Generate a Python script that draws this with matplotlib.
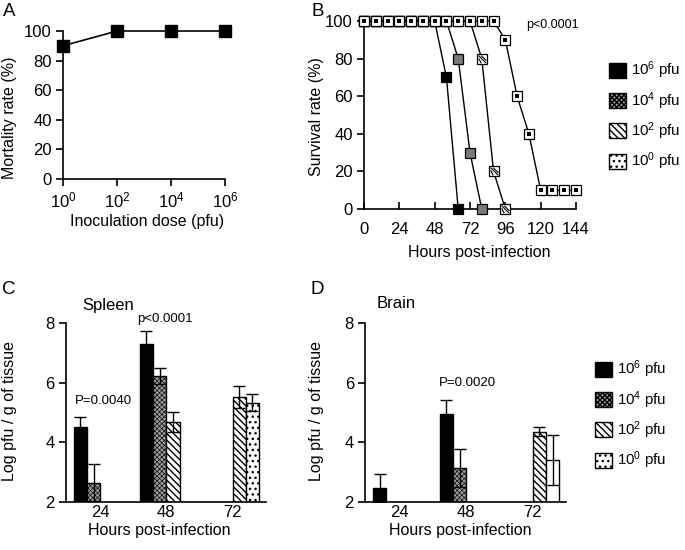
import numpy as np
import matplotlib
matplotlib.use("Agg")
import matplotlib.pyplot as plt
from matplotlib.patches import Patch
from matplotlib.path import Path

plt.rcParams["font.family"] = ["Liberation Sans", "DejaVu Sans"]
plt.rcParams["mathtext.fontset"] = "custom"
plt.rcParams["mathtext.rm"] = "Liberation Sans"
plt.rcParams["hatch.linewidth"] = 1.0

# Panel A data
doses = [1, 1e2, 1e4, 1e6]
dose_labels = [r"$\mathregular{10^0}$", r"$\mathregular{10^2}$",
               r"$\mathregular{10^4}$", r"$\mathregular{10^6}$"]
mortality = [90, 100, 100, 100]

# Panel B data (hours, survival %)
surv_hours = {
    "1e6": [0, 8, 16, 24, 32, 40, 48, 56, 64],
    "1e4": [0, 8, 16, 24, 32, 40, 48, 56, 64, 72, 80],
    "1e2": [0, 8, 16, 24, 32, 40, 48, 56, 64, 72, 80, 88, 96],
    "1e0": [0, 8, 16, 24, 32, 40, 48, 56, 64, 72, 80, 88, 96, 104, 112, 120, 128, 136, 144],
}
surv_rate = {
    "1e6": [100, 100, 100, 100, 100, 100, 100, 70, 0],
    "1e4": [100, 100, 100, 100, 100, 100, 100, 100, 80, 30, 0],
    "1e2": [100, 100, 100, 100, 100, 100, 100, 100, 100, 100, 80, 20, 0],
    "1e0": [100, 100, 100, 100, 100, 100, 100, 100, 100, 100, 100, 100, 90, 60, 40, 10, 10, 10, 10],
}

# Panels C and D data (log pfu / g), NaN = no bar
hours_labels = ["24", "48", "72"]
spleen_mean = {
    "1e6": [4.5, 7.3, np.nan],
    "1e4": [2.65, 6.22, np.nan],
    "1e2": [np.nan, 4.68, 5.52],
    "1e0": [np.nan, np.nan, 5.33],
}
spleen_err = {
    "1e6": [0.35, 0.41, 0],
    "1e4": [0.62, 0.28, 0],
    "1e2": [0, 0.33, 0.37],
    "1e0": [0, 0, 0.29],
}
brain_mean = {
    "1e6": [2.48, 4.96, np.nan],
    "1e4": [np.nan, 3.15, np.nan],
    "1e2": [np.nan, np.nan, 4.35],
    "1e0": [np.nan, np.nan, 3.41],
}
brain_err = {
    "1e6": [0.47, 0.45, 0],
    "1e4": [0, 0.63, 0],
    "1e2": [0, 0, 0.15],
    "1e0": [0, 0, 0.83],
}

series = ["1e6", "1e4", "1e2", "1e0"]
labels = [r"$\mathregular{10^6}$ pfu", r"$\mathregular{10^4}$ pfu",
          r"$\mathregular{10^2}$ pfu", r"$\mathregular{10^0}$ pfu"]
faces = {"1e6": "black", "1e4": "#9c9c9c", "1e2": "white", "1e0": "white"}
hatches = {"1e6": None, "1e4": "xxxxxxx", "1e2": "\\\\\\\\\\", "1e0": "..."}

TICK = 12
LAB = 11.5

fig = plt.figure(figsize=(6.85, 5.5), dpi=100)
W, H = 685.0, 550.0


def add_ax(x0, x1, ytop, ybot):
    return fig.add_axes([x0 / W, 1 - ybot / H, (x1 - x0) / W, (ybot - ytop) / H])


def style(ax):
    for s in ["top", "right"]:
        ax.spines[s].set_visible(False)
    for s in ["left", "bottom"]:
        ax.spines[s].set_linewidth(1.2)
    ax.tick_params(labelsize=TICK, width=1.2, length=5, pad=3)


def thin_hatch(p, key):
    if key == "1e4" and hasattr(p, "set_hatch_linewidth"):
        p.set_hatch_linewidth(0.45)


# ---- A ----
axA = add_ax(63, 225, 31, 179)
style(axA)
axA.plot(doses, mortality, color="black", lw=1.2, marker="s", ms=8,
         mfc="black", mec="black", clip_on=False, zorder=3)
axA.set_xscale("log")
axA.set_xlim(1, 1e6)
axA.set_ylim(0, 100)
axA.set_xticks(doses)
axA.set_xticklabels(dose_labels)
axA.minorticks_off()
axA.set_yticks(range(0, 101, 20))

# ---- B ----
axB = add_ax(364, 576, 21, 209)
style(axB)
axB.tick_params(axis="x", direction="in", pad=9)
hatch_marker = Path([(-1, 0.33), (-0.33, -1), (-1, 1), (1, -1), (-0.33, 1), (1, -0.33)],
                    [Path.MOVETO, Path.LINETO, Path.MOVETO, Path.LINETO, Path.MOVETO, Path.LINETO])
for key in ["1e6", "1e4", "1e2", "1e0"]:
    axB.plot(surv_hours[key], surv_rate[key], color="black", lw=1.0, marker="s",
             ms=7.5, mfc=faces[key] if key != "1e4" else "#7a7a7a", mec="black",
             mew=0.9, clip_on=False, zorder=3)
    if key == "1e0":
        axB.plot(surv_hours[key], surv_rate[key], ls="none", marker="s", ms=2.2,
                 mfc="black", mec="black", mew=0, clip_on=False, zorder=4)
    if key == "1e2":
        axB.plot(surv_hours[key][-3:], surv_rate[key][-3:], ls="none",
                 marker=hatch_marker, ms=5.5, mec="black", mew=0.8,
                 clip_on=False, zorder=3)
axB.set_xlim(0, 144)
axB.set_ylim(0, 100)
axB.set_xticks(range(0, 145, 24))
axB.set_yticks(range(0, 101, 20))
axB.text(128, 98, "p<0.0001", ha="center", va="center", fontsize=9)

# ---- C & D ----
width = 0.2
offsets = [-1.5, -0.5, 0.5, 1.5]
x = np.arange(len(hours_labels))


def bars(ax, means, errs, white_last=False):
    style(ax)
    for i, key in enumerate(series):
        hatch = hatches[key]
        if white_last and key == "1e0":
            hatch = None
        cont = ax.bar(x + offsets[i] * width, means[key], width, bottom=0,
                      color=faces[key], edgecolor="black", linewidth=1.0,
                      hatch=hatch, zorder=2)
        for p in cont:
            thin_hatch(p, key)
        yerr = np.array(errs[key])
        m = np.array(means[key])
        ok = ~np.isnan(m)
        ax.errorbar((x + offsets[i] * width)[ok], m[ok], yerr=yerr[ok], fmt="none",
                    ecolor="black", elinewidth=1.0, capsize=4, capthick=1.0, zorder=3)
    ax.set_ylim(2, 8)
    ax.set_xlim(-0.52, 2.5)
    ax.set_yticks([2, 4, 6, 8])
    ax.set_xticks(x)
    ax.set_xticklabels(hours_labels)
    ax.tick_params(axis="x", length=0, pad=2)


axC = add_ax(65.7, 265.7, 322.7, 502.3)
bars(axC, spleen_mean, spleen_err)
axC.text(-0.27, 8.58, "Spleen", ha="left", va="center", fontsize=12, clip_on=False)
axC.text(0.045, 5.39, "P=0.0040", ha="center", va="center", fontsize=9.5)
axC.text(0.98, 8.14, "p<0.0001", ha="center", va="center", fontsize=9.5, clip_on=False)

axD = add_ax(365, 566, 322.7, 502.3)
bars(axD, brain_mean, brain_err, white_last=True)
axD.text(-0.34, 8.64, "Brain", ha="left", va="center", fontsize=12, clip_on=False)
axD.text(1.02, 6.0, "P=0.0020", ha="center", va="center", fontsize=9.5)


# ---- labels (pixel positions) ----
def ftext(px, py, s, **kw):
    fig.text(px / W, 1 - py / H, s, **kw)


ftext(147, 222, "Inoculation dose (pfu)", ha="center", va="center", fontsize=LAB)
ftext(10, 118, "Mortality rate (%)", ha="center", va="center", rotation=90, fontsize=LAB)
ftext(479, 253, "Hours post-infection", ha="center", va="center", fontsize=LAB)
ftext(317, 117, "Survival rate (%)", ha="center", va="center", rotation=90, fontsize=LAB)
ftext(159, 531, "Hours post-infection", ha="center", va="center", fontsize=LAB)
ftext(10, 411, "Log pfu / g of tissue", ha="center", va="center", rotation=90, fontsize=LAB)
ftext(460, 531, "Hours post-infection", ha="center", va="center", fontsize=LAB)
ftext(317, 411, "Log pfu / g of tissue", ha="center", va="center", rotation=90, fontsize=LAB)

ftext(9, 12, "A", ha="center", va="center", fontsize=13.5)
ftext(318, 12, "B", ha="center", va="center", fontsize=13.5)
ftext(9, 289, "C", ha="center", va="center", fontsize=13.5)
ftext(317, 289, "D", ha="center", va="center", fontsize=13.5)


# ---- legends ----
def make_handles():
    hs = []
    for k in series:
        p = Patch(facecolor=faces[k], edgecolor="black", hatch=hatches[k], lw=1.0)
        thin_hatch(p, k)
        hs.append(p)
    return hs


leg_kw = dict(loc="center left", frameon=False, fontsize=10.8, handlelength=1.15,
              handleheight=1.15, labelspacing=0.58, handletextpad=0.35, borderpad=0)
fig.legend(make_handles(), labels, bbox_to_anchor=(601 / W, 1 - 116 / H), **leg_kw)
fig.legend(make_handles(), labels, bbox_to_anchor=(587 / W, 1 - 415 / H), **leg_kw)

fig.savefig("out.png", dpi=100)
